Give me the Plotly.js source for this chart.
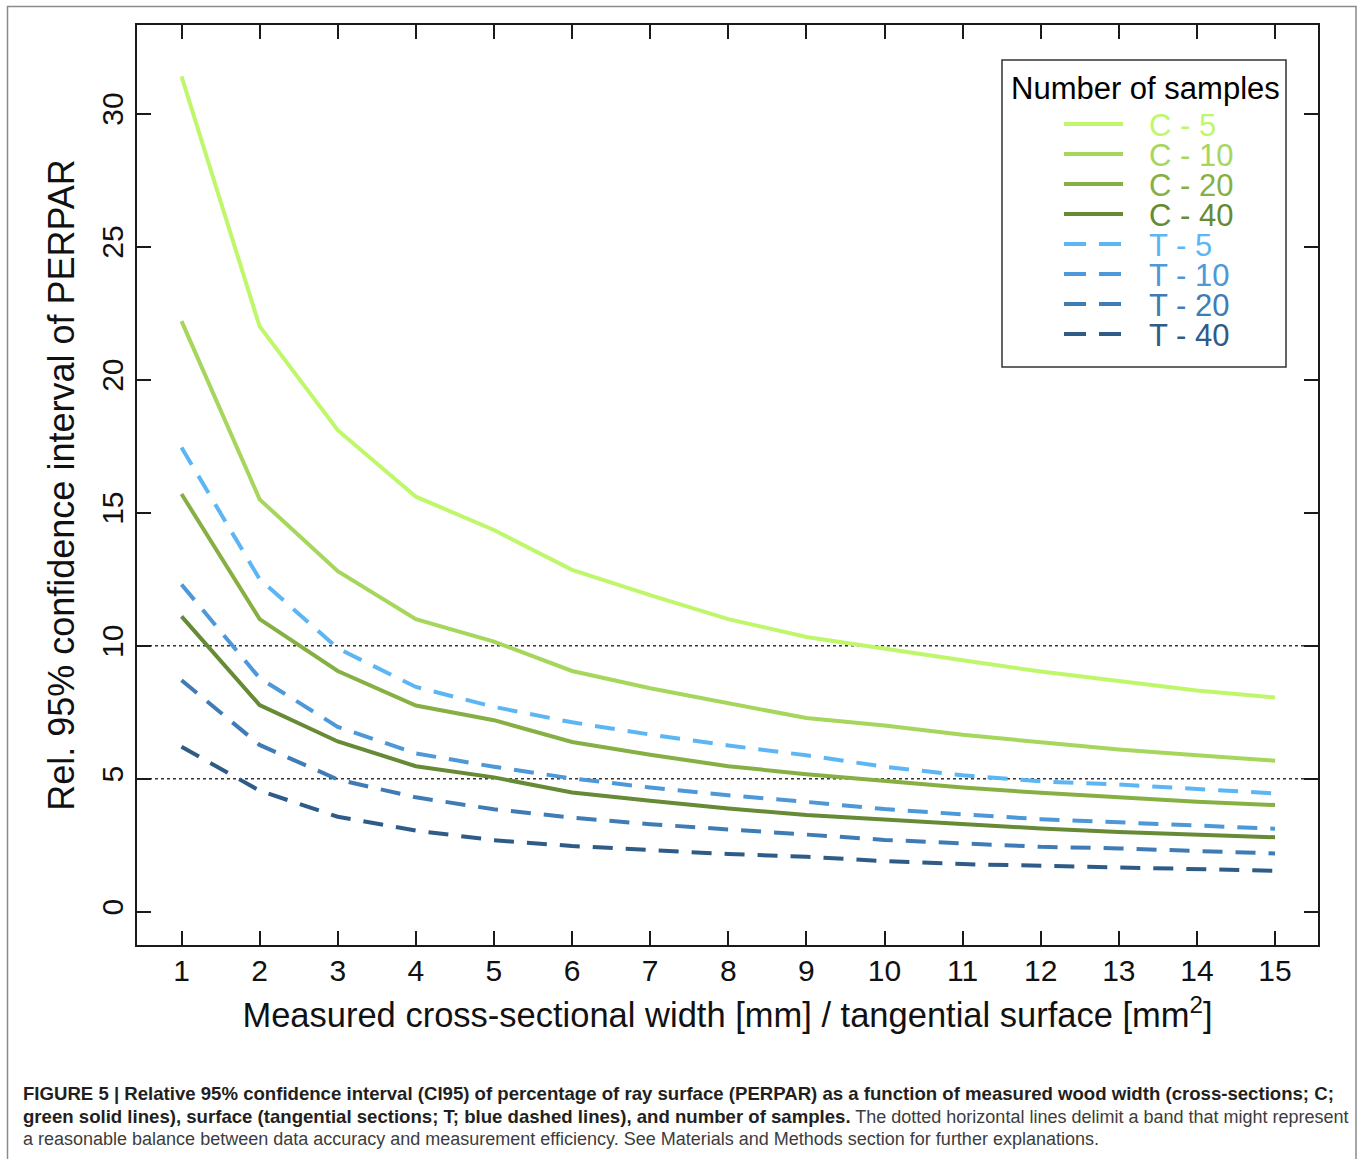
<!DOCTYPE html>
<html>
<head>
<meta charset="utf-8">
<script src="https://cdn.plot.ly/plotly-3.0.1.min.js"></script>
<style>
  html, body { margin: 0; padding: 0; background: #fff; }
  #chart { width: 1360px; height: 1159px; }
</style>
</head>
<body>
<div id="chart"></div>
<script>
// ---- data ----
const widths = [1, 2, 3, 4, 5, 6, 7, 8, 9, 10, 11, 12, 13, 14, 15];
const seriesNames = ["C - 5", "C - 10", "C - 20", "C - 40", "T - 5", "T - 10", "T - 20", "T - 40"];
const c5  = [31.4, 22.0, 18.1, 15.6, 14.35, 12.85, 11.9, 11.0, 10.33, 9.88, 9.45, 9.03, 8.66, 8.32, 8.05];
const c10 = [22.2, 15.5, 12.8, 11.0, 10.15, 9.05, 8.4, 7.83, 7.28, 7.0, 6.65, 6.37, 6.1, 5.88, 5.68];
const c20 = [15.7, 11.0, 9.05, 7.75, 7.2, 6.38, 5.9, 5.47, 5.17, 4.92, 4.67, 4.47, 4.29, 4.13, 4.01];
const c40 = [11.1, 7.77, 6.4, 5.47, 5.05, 4.48, 4.17, 3.88, 3.64, 3.46, 3.29, 3.13, 3.0, 2.9, 2.8];
const t5  = [17.45, 12.5, 9.9, 8.45, 7.7, 7.12, 6.66, 6.25, 5.88, 5.45, 5.13, 4.9, 4.78, 4.63, 4.45];
const t10 = [12.3, 8.78, 6.95, 5.95, 5.45, 5.01, 4.67, 4.38, 4.13, 3.86, 3.66, 3.48, 3.36, 3.23, 3.12];
const t20 = [8.7, 6.27, 4.97, 4.3, 3.85, 3.54, 3.29, 3.08, 2.9, 2.7, 2.57, 2.44, 2.38, 2.29, 2.19];
const t40 = [6.2, 4.55, 3.57, 3.05, 2.69, 2.47, 2.32, 2.17, 2.07, 1.9, 1.79, 1.73, 1.65, 1.59, 1.54];
const seriesValues = [c5, c10, c20, c40, t5, t10, t20, t40];
const seriesColors = ["#bff76a", "#a6d65c", "#87b044", "#668a35", "#5cb6f4", "#4d98d8", "#3f7cb6", "#2e5b87"];
const seriesDash = ["solid", "solid", "solid", "solid", "dash", "dash", "dash", "dash"];
const xTicks = [1, 2, 3, 4, 5, 6, 7, 8, 9, 10, 11, 12, 13, 14, 15];
const yTicks = [0, 5, 10, 15, 20, 25, 30];
const refLines = [10, 5];
const legendTitle = "Number of samples";
const xTitle = "Measured cross-sectional width [mm] / tangential surface [mm<sup>2</sup>]";
const yTitle = "Rel. 95% confidence interval of PERPAR";
const B = "<span style=\"font-size:18.6px\"><b>";
const BE = "</b></span>";
const R = "<span style=\"color:#3c3c3c;font-size:18px\">";
const RE = "</span>";
const captionLines = [
  B + "FIGURE 5 | Relative 95% confidence interval (CI95) of percentage of ray surface (PERPAR) as a function of measured wood width (cross-sections; C;" + BE,
  B + "green solid lines), surface (tangential sections; T; blue dashed lines), and number of samples." + BE + R + " The dotted horizontal lines delimit a band that might represent" + RE,
  R + "a reasonable balance between data accuracy and measurement efficiency. See Materials and Methods section for further explanations." + RE
];

// ---- layout geometry (pixels) ----
const W = 1360, H = 1159;
const M = { l: 137, r: 42, t: 25, b: 214 };
const PW = W - M.l - M.r, PH = H - M.t - M.b;
const px = x => (x - M.l) / PW;
const py = y => (H - M.b - y) / PH;

const dashPattern = "20px,13px";
const FONT = "Liberation Sans, Arial, sans-serif";

const traces = seriesNames.map((n, i) => ({
  x: widths,
  y: seriesValues[i],
  type: "scatter",
  mode: "lines",
  name: n,
  showlegend: false,
  line: { color: seriesColors[i], width: 4, dash: seriesDash[i] === "dash" ? dashPattern : "solid" },
  hoverinfo: "x+y+name"
}));

const shapes = [];
const annotations = [];

// reference dotted lines
refLines.forEach(v => shapes.push({
  type: "line", xref: "paper", yref: "y", x0: 0, x1: 1, y0: v, y1: v,
  line: { color: "#333", width: 1.5, dash: "3px,3px" }, layer: "below"
}));

// figure border
shapes.push({
  type: "rect", xref: "paper", yref: "paper",
  x0: px(7.5), x1: px(1356), y0: py(1162), y1: py(6.5),
  line: { color: "#8a8a8a", width: 1.5 }, layer: "below"
});

// custom legend box
shapes.push({
  type: "rect", xref: "paper", yref: "paper",
  x0: px(1002), x1: px(1286), y0: py(367), y1: py(60),
  line: { color: "#333", width: 1.5 }, fillcolor: "#fff", layer: "above"
});
annotations.push({
  xref: "paper", yref: "paper", x: px(1145), y: py(88), text: legendTitle,
  showarrow: false, xanchor: "center", yanchor: "middle",
  font: { family: FONT, size: 31, color: "#000" }
});
seriesNames.forEach((n, i) => {
  const yy = 124 + 30 * i;
  shapes.push({
    type: "line", xref: "paper", yref: "paper",
    x0: px(1064), x1: px(1123), y0: py(yy), y1: py(yy),
    line: { color: seriesColors[i], width: 4, dash: seriesDash[i] === "dash" ? "22px,13px" : "solid" },
    layer: "above"
  });
  annotations.push({
    xref: "paper", yref: "paper", x: px(1147), y: py(yy + 1), text: n,
    showarrow: false, xanchor: "left", yanchor: "middle", height: 30, valign: "middle",
    font: { family: FONT, size: 31, color: seriesColors[i] }
  });
});

// caption
captionLines.forEach((t, i) => {
  annotations.push({
    xref: "paper", yref: "paper", x: px(21), y: py(1093 + 23 * i), text: t,
    showarrow: false, xanchor: "left", yanchor: "middle", align: "left",
    font: { family: FONT, size: 18.3, color: "#231f20" }
  });
});

const axisCommon = {
  showgrid: false, zeroline: false, showline: true, linecolor: "#1a1a1a", linewidth: 2,
  mirror: "ticks", ticks: "inside", ticklen: 14, tickwidth: 2, tickcolor: "#1a1a1a",
  tickfont: { family: FONT, size: 30, color: "#111" },
  fixedrange: true
};

const layout = {
  width: W, height: H,
  margin: M,
  paper_bgcolor: "#fff", plot_bgcolor: "#fff",
  showlegend: false,
  xaxis: Object.assign({}, axisCommon, {
    range: [0.43, 15.55], tickmode: "array", tickvals: xTicks, ticktext: xTicks.map(String),
    ticklabelstandoff: -2,
    title: { text: xTitle, standoff: 17, font: { family: FONT, size: 34.5, color: "#111" } }
  }),
  yaxis: Object.assign({}, axisCommon, {
    range: [-1.25, 33.33], tickmode: "array", tickvals: yTicks, ticktext: yTicks.map(String),
    tickangle: -90, ticklabelstandoff: 0,
    title: { text: yTitle, standoff: 10, font: { family: FONT, size: 36, color: "#111" } }
  }),
  shapes: shapes,
  annotations: annotations
};

Plotly.newPlot("chart", traces, layout, { displayModeBar: false, staticPlot: true });
</script>
</body>
</html>
